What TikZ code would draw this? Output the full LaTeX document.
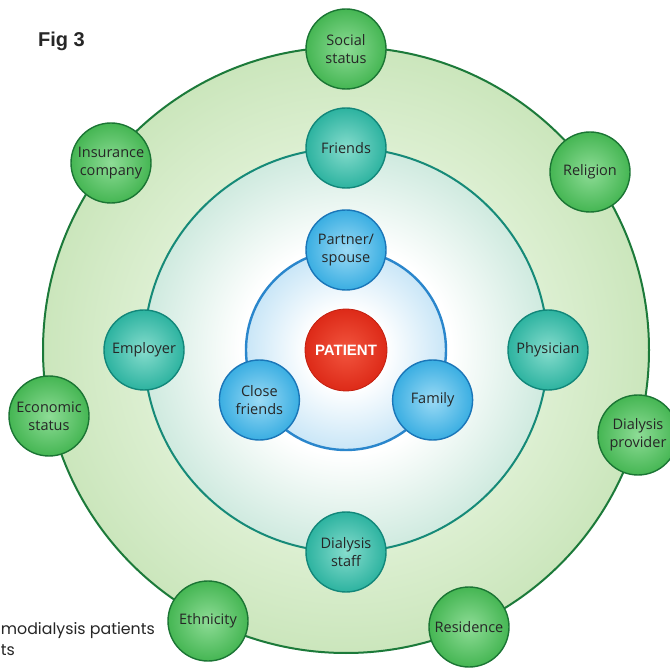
\documentclass[tikz,border=0pt]{standalone}
\usepackage{fontspec}
\setmainfont{Open Sans}
\newfontfamily\figfont{Liberation Sans}
\newfontfamily\capfont{Poppins}
\definecolor{outedge}{HTML}{CBE6BC}
\definecolor{outin}{HTML}{E0F1D6}
\definecolor{outline}{HTML}{1C7A3A}
\definecolor{midedge}{HTML}{CFEADF}
\definecolor{midline}{HTML}{168A78}
\definecolor{inedge}{HTML}{C9E6F7}
\definecolor{inline}{HTML}{2A86CC}
\definecolor{gLight}{HTML}{8EDC96}
\definecolor{gMid}{HTML}{45B653}
\definecolor{gDark}{HTML}{1B7534}
\definecolor{tLight}{HTML}{86DCCD}
\definecolor{tMid}{HTML}{2DB3A0}
\definecolor{tDark}{HTML}{12877A}
\definecolor{bLight}{HTML}{9ADAF5}
\definecolor{bMid}{HTML}{3AAEE2}
\definecolor{bDark}{HTML}{1A76B8}
\definecolor{rLight}{HTML}{F2553E}
\definecolor{rMid}{HTML}{DD2A18}
\definecolor{rDark}{HTML}{C22010}
\definecolor{txt}{HTML}{262626}
\pgfdeclareradialshading{outring}{\pgfpoint{0bp}{0bp}}{color(0bp)=(white); color(15bp)=(outin); color(25bp)=(outedge); color(50bp)=(outedge)}
\pgfdeclareradialshading{midring}{\pgfpoint{0bp}{0bp}}{color(0bp)=(white); color(13bp)=(white); color(25bp)=(midedge); color(50bp)=(midedge)}
\pgfdeclareradialshading{inring}{\pgfpoint{0bp}{0bp}}{color(0bp)=(white); color(10bp)=(white); color(25bp)=(inedge); color(50bp)=(inedge)}
\tikzset{
  bubble/.style={circle, minimum size=80pt, inner sep=0pt, line width=1.4pt, text=txt, align=center, font=\fontsize{14.5}{18}\selectfont},
  outernode/.style={bubble, draw=gDark, inner color=gLight, outer color=gMid},
  midnode/.style={bubble, draw=tDark, inner color=tLight, outer color=tMid},
  innernode/.style={bubble, draw=bDark, inner color=bLight, outer color=bMid},
  patientnode/.style={circle, minimum size=82pt, inner sep=0pt, line width=0.8pt, draw=rDark, inner color=rLight, outer color=rMid, text=white, font=\figfont\bfseries\fontsize{15}{18}\selectfont},
  ring/.style={line width=2pt},
  captext/.style={anchor=base east, inner sep=0pt, font=\capfont\fontsize{15.8}{19}\selectfont, text=txt}
}
\begin{document}
\begin{tikzpicture}[x=1pt,y=-1pt]
\clip (0,0) rectangle (670,668);
\fill[white] (0,0) rectangle (670,668);
\coordinate (C) at (346,350);
% rings
\path[shading=outring] (C) circle (303);
\draw[ring, draw=outline] (C) circle (303);
\path[shading=midring] (C) circle (202);
\draw[ring, draw=midline] (C) circle (202);
\path[shading=inring] (C) circle (100);
\draw[ring, line width=2.4pt, draw=inline] (C) circle (100);
% center
\node[patientnode] (patient) at (C) {PATIENT};
% inner nodes
\node[innernode] (partner) at (346,250) {Partner/\\spouse};
\node[innernode] (close) at (259.4,400) {Close\\friends};
\node[innernode] (family) at (432.6,400) {Family};
% middle nodes
\node[midnode] (friends) at (346,148) {Friends};
\node[midnode] (employer) at (144,350) {Employer};
\node[midnode] (physician) at (548,350) {Physician};
\node[midnode] (staff) at (346,552) {Dialysis\\staff};
% outer nodes
\node[outernode] (social) at (346,49) {Social\\status};
\node[outernode] (insurance) at (111,163) {Insurance\\company};
\node[outernode] (religion) at (590,172) {Religion};
\node[outernode] (economic) at (49,416) {Economic\\status};
\node[outernode] (provider) at (638,435) {Dialysis\\provider};
\node[outernode] (ethnicity) at (208,621) {Ethnicity};
\node[outernode] (residence) at (469,627) {Residence};
% labels
\node[anchor=base west, inner sep=0pt, font=\figfont\bfseries\fontsize{20}{24}\selectfont, text=txt] (fig) at (38,47) {Fig 3};
\node[captext] (cap1) at (155,634) {modialysis patients};
\node[captext] (cap2) at (15,655) {ts};
\end{tikzpicture}
\end{document}
